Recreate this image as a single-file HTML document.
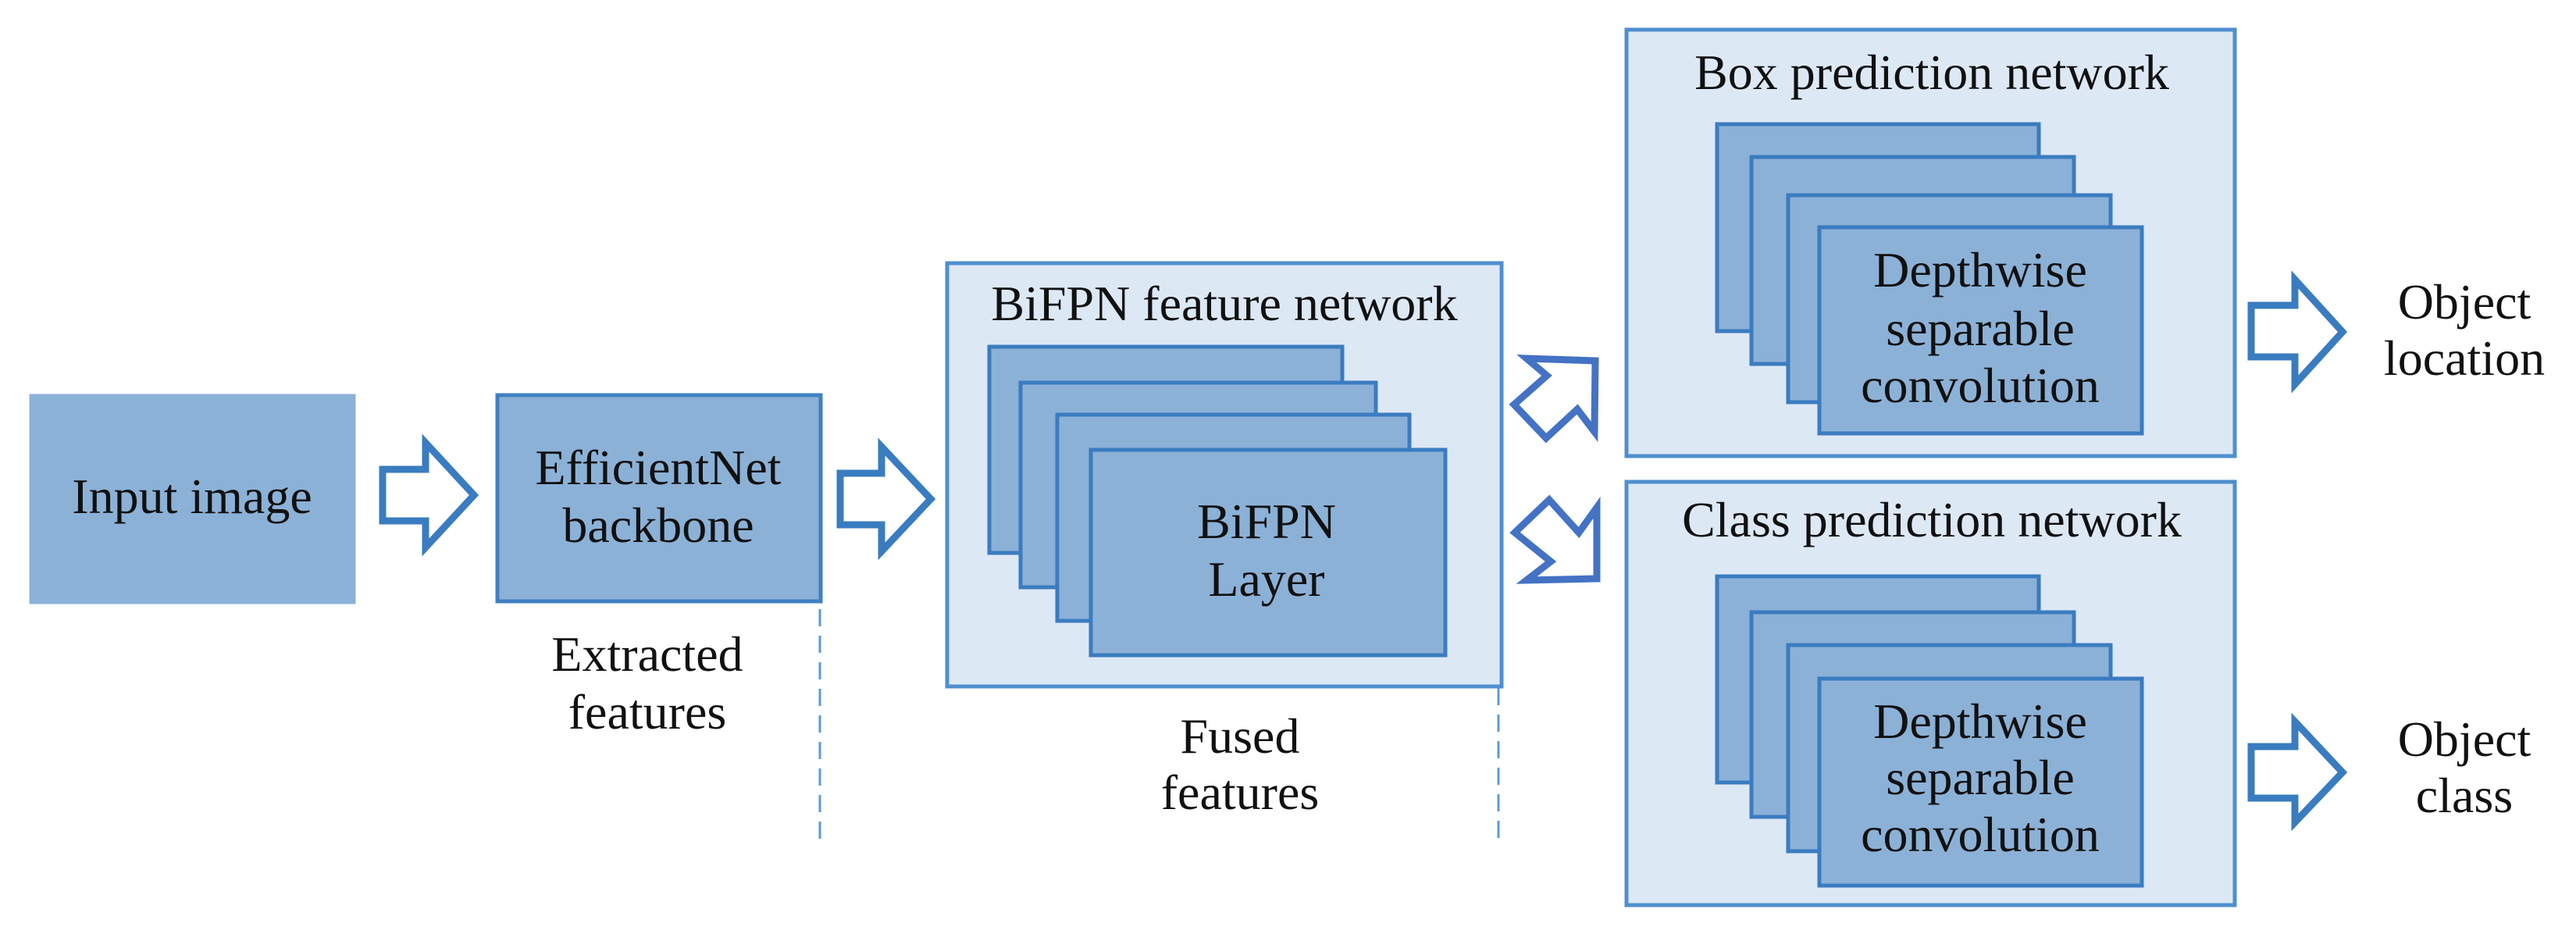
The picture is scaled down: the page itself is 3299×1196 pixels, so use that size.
<!DOCTYPE html>
<html><head><meta charset="utf-8"><style>
html,body{margin:0;padding:0;background:#fff;}
svg text{font-family:"Liberation Serif",serif;font-size:64px;fill:#111;}
</style></head><body>
<svg width="3299" height="1191" viewBox="0 0 3299 1191" xmlns="http://www.w3.org/2000/svg">
<g fill="#8cb1d7" stroke="#3f80c2" stroke-width="5">
<rect x="40" y="507" width="413" height="264" stroke="#8cb1d7"/>
<rect x="637" y="506" width="414" height="264"/>
</g>
<text x="246" y="657" text-anchor="middle">Input image</text>
<text x="843" y="620" text-anchor="middle">EfficientNet</text>
<text x="843" y="694" text-anchor="middle">backbone</text>
<g fill="#fff" stroke="#3a7cc0" stroke-width="9" stroke-linejoin="miter">
<path d="M490,601 L545,601 L545,567 L607,634 L545,701 L545,667 L490,667 Z"/>
<path d="M1076,606 L1129,606 L1129,572 L1192,639 L1129,706 L1129,672 L1076,672 Z"/>
<path d="M2883,391 L2939,391 L2939,358 L3000,425 L2939,492 L2939,457 L2883,457 Z"/>
<path d="M2883,956 L2939,956 L2939,924 L3000,989 L2939,1053 L2939,1022 L2883,1022 Z"/>
</g>
<g fill="#fff" stroke="#4472c4" stroke-width="9" stroke-linejoin="miter">
<path d="M1955,459 L2043,462 L2042,553 L2020,524 L1980,561 L1939,518 L1981,481 Z"/>
<path d="M1984,640 L2022,682 L2045,650 L2045,741 L1955,743 L1986,719 L1940,682 Z"/>
</g>
<text x="829" y="859" text-anchor="middle">Extracted</text>
<text x="829" y="933" text-anchor="middle">features</text>
<line x1="1050" y1="780" x2="1050" y2="1078" stroke="#5b9bd5" stroke-width="3" stroke-dasharray="22,12"/>
<line x1="1919" y1="881" x2="1919" y2="1074" stroke="#5b9bd5" stroke-width="3" stroke-dasharray="22,12"/>
<!-- BiFPN -->
<rect x="1213" y="337" width="710" height="542" fill="#dde8f5" stroke="#4f8fcf" stroke-width="5"/>
<text x="1568" y="410" text-anchor="middle">BiFPN  feature network</text>
<g fill="#8cb1d7" stroke="#3a7cc0" stroke-width="5">
<rect x="1267" y="444" width="452" height="264"/>
<rect x="1307" y="490" width="455" height="262"/>
<rect x="1354" y="531" width="451" height="264"/>
<rect x="1397" y="576" width="454" height="263"/>
</g>
<text x="1622" y="689" text-anchor="middle">BiFPN</text>
<text x="1622" y="763" text-anchor="middle">Layer</text>
<text x="1588" y="964" text-anchor="middle">Fused</text>
<text x="1588" y="1036" text-anchor="middle">features</text>
<!-- Box prediction -->
<rect x="2083" y="38" width="779" height="546" fill="#dde8f5" stroke="#4f8fcf" stroke-width="5"/>
<text x="2474" y="114" text-anchor="middle">Box prediction network</text>
<g fill="#8cb1d7" stroke="#3a7cc0" stroke-width="5">
<rect x="2199" y="159" width="412" height="265"/>
<rect x="2243" y="201" width="413" height="265"/>
<rect x="2290" y="250" width="413" height="265"/>
<rect x="2330" y="291" width="413" height="264"/>
</g>
<text x="2536" y="367" text-anchor="middle">Depthwise</text>
<text x="2536" y="442" text-anchor="middle">separable</text>
<text x="2536" y="515" text-anchor="middle">convolution</text>
<text x="3156" y="408" text-anchor="middle">Object</text>
<text x="3156" y="480" text-anchor="middle">location</text>
<!-- Class prediction -->
<rect x="2083" y="617" width="779" height="542" fill="#dde8f5" stroke="#4f8fcf" stroke-width="5"/>
<text x="2474" y="687" text-anchor="middle">Class prediction network</text>
<g fill="#8cb1d7" stroke="#3a7cc0" stroke-width="5">
<rect x="2199" y="738" width="412" height="264"/>
<rect x="2243" y="784" width="413" height="262"/>
<rect x="2290" y="826" width="413" height="264"/>
<rect x="2330" y="869" width="413" height="265"/>
</g>
<text x="2536" y="945" text-anchor="middle">Depthwise</text>
<text x="2536" y="1017" text-anchor="middle">separable</text>
<text x="2536" y="1090" text-anchor="middle">convolution</text>
<text x="3156" y="968" text-anchor="middle">Object</text>
<text x="3156" y="1040" text-anchor="middle">class</text>
</svg>
</body></html>
